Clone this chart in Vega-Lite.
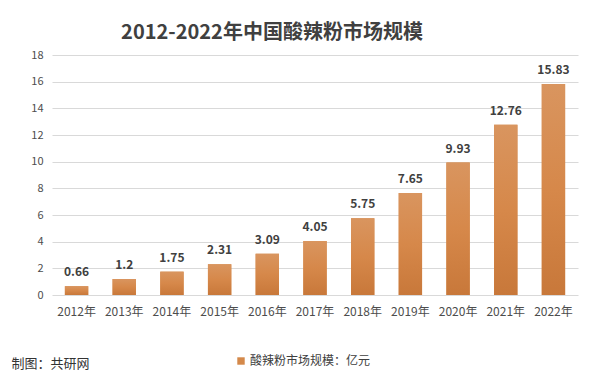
{
  "$schema": "https://vega.github.io/schema/vega-lite/v6.json",
  "width": 526,
  "height": 240,
  "autosize": {"type": "none"},
  "padding": {"left": 52, "top": 55, "right": 22, "bottom": 82},
  "background": "white",
  "config": {
    "font": "Noto Sans CJK SC",
    "view": {"stroke": null}
  },
  "title": {
    "text": "2012-2022年中国酸辣粉市场规模",
    "fontSize": 20,
    "fontWeight": "bold",
    "color": "#404040",
    "anchor": "middle",
    "dx": -43,
    "offset": 6
  },
  "data": {
    "values": [
      {"year": "2012年", "value": 0.66, "label": "0.66"},
      {"year": "2013年", "value": 1.2, "label": "1.2"},
      {"year": "2014年", "value": 1.75, "label": "1.75"},
      {"year": "2015年", "value": 2.31, "label": "2.31"},
      {"year": "2016年", "value": 3.09, "label": "3.09"},
      {"year": "2017年", "value": 4.05, "label": "4.05"},
      {"year": "2018年", "value": 5.75, "label": "5.75"},
      {"year": "2019年", "value": 7.65, "label": "7.65"},
      {"year": "2020年", "value": 9.93, "label": "9.93"},
      {"year": "2021年", "value": 12.76, "label": "12.76"},
      {"year": "2022年", "value": 15.83, "label": "15.83"}
    ]
  },
  "encoding": {
    "x": {
      "field": "year",
      "type": "nominal",
      "sort": null,
      "scale": {"paddingInner": 0.51, "paddingOuter": 0.27},
      "axis": {
        "labelAngle": 0,
        "labelFontSize": 12,
        "labelColor": "#4d4d4d",
        "labelPadding": 11,
        "ticks": false,
        "domain": false,
        "title": "制图：共研网",
        "titleX": -41,
        "titleY": 68,
        "titleAlign": "left",
        "titleBaseline": "middle",
        "titleFontSize": 13,
        "titleFontWeight": "normal",
        "titleColor": "#333333"
      }
    },
    "y": {
      "field": "value",
      "type": "quantitative",
      "scale": {"domain": [0, 18], "nice": false},
      "axis": {
        "values": [0, 2, 4, 6, 8, 10, 12, 14, 16, 18],
        "title": null,
        "domain": false,
        "ticks": false,
        "labelFontSize": 11,
        "labelColor": "#4d4d4d",
        "labelPadding": 9,
        "gridColor": "#d9d9d9",
        "gridWidth": 1
      }
    }
  },
  "layer": [
    {
      "mark": {"type": "bar"},
      "encoding": {
        "color": {
          "datum": "酸辣粉市场规模：亿元",
          "scale": {"range": ["#d4894a"]},
          "legend": {
            "title": null,
            "orient": "none",
            "legendX": 183,
            "legendY": 300,
            "symbolType": "square",
            "symbolSize": 55,
            "labelFontSize": 12,
            "labelColor": "#404040",
            "labelOffset": 3
          }
        }
      }
    },
    {
      "mark": {
        "type": "bar",
        "fill": {
          "gradient": "linear",
          "x1": 0, "y1": 0, "x2": 0, "y2": 1,
          "stops": [
            {"offset": 0, "color": "#d9955f"},
            {"offset": 0.5, "color": "#d6884a"},
            {"offset": 1, "color": "#c8783a"}
          ]
        }
      },
      "encoding": {}
    },
    {
      "mark": {"type": "text", "dy": -7, "fontSize": 12, "fontWeight": "bold", "color": "#404040", "baseline": "bottom"},
      "encoding": {"text": {"field": "label"}}
    }
  ]
}
